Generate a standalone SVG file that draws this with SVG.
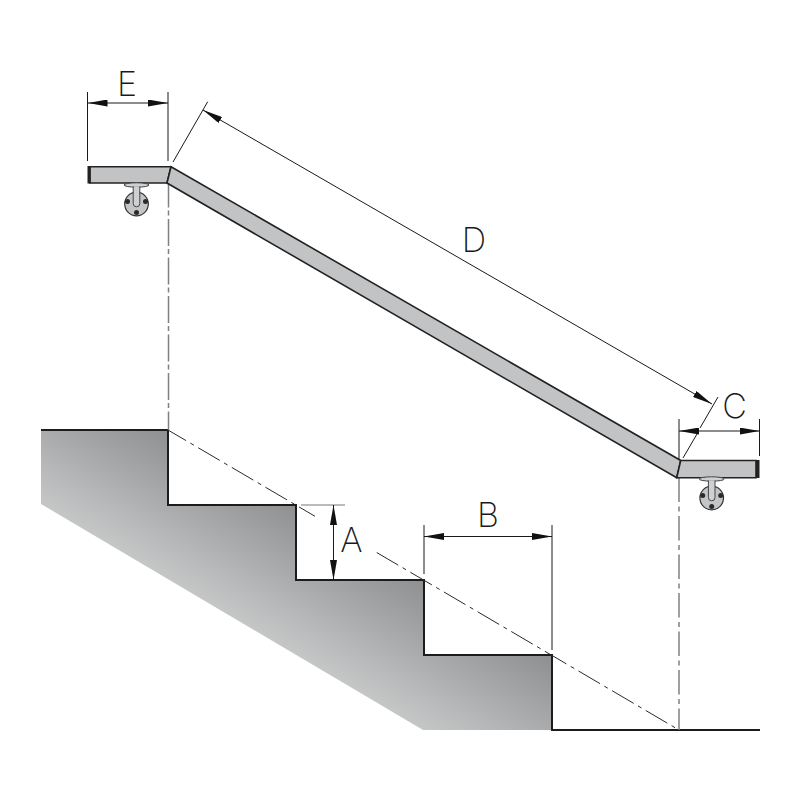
<svg xmlns="http://www.w3.org/2000/svg" width="800" height="800" viewBox="0 0 800 800">
<style>
.dim{fill:none;stroke:#1a1a1a;stroke-width:1}
.cl{fill:none;stroke:#2a2a2a;stroke-width:1;stroke-dasharray:25 5 4 5}
.clv{fill:none;stroke:#808080;stroke-width:1.5}
.edge{fill:none;stroke:#1c1c1c;stroke-width:2}
.rail{fill:#c2c3c5;stroke:#222;stroke-width:1.6;stroke-linejoin:miter}
.lab{font-family:"Inter","Liberation Sans",sans-serif;font-weight:200;font-size:34px;fill:#1a1a1a;text-anchor:middle}
.disc{fill:#c4c5c7;stroke:#333;stroke-width:1.2}
.hole{fill:#2a2a2a}
.stem{fill:#cfd0d2;stroke:#444;stroke-width:1}
</style>
<defs>
<linearGradient id="g" gradientUnits="userSpaceOnUse" x1="305" y1="512" x2="240" y2="622">
<stop offset="0" stop-color="#8f9092"/><stop offset="0.5" stop-color="#a9abad"/><stop offset="1" stop-color="#c5c7c7"/>
</linearGradient>
<marker id="a" viewBox="0 0 20 7" refX="20" refY="3.5" markerWidth="20" markerHeight="7" markerUnits="userSpaceOnUse" orient="auto-start-reverse"><path d="M0 0L20 3.5L0 7Z" fill="#111"/></marker>
<g id="bracket">
<ellipse cx="0" cy="1.5" rx="12.5" ry="2.2" class="stem"/>
<circle cx="0" cy="20.500" r="11.800" class="disc"/>
<circle cx="-9" cy="18" r="2.500" class="hole"/><circle cx="9" cy="18" r="2.500" class="hole"/><circle cx="0" cy="29" r="2.500" class="hole"/>
<path d="M-3.300 3V20a3.300 3.300 0 0 0 6.600 0V3" class="stem"/>
</g>
</defs>
<g id="stairs">
<path d="M41 430H168V505H296V580H424V655H552V730H423L41 504Z" fill="url(#g)"/>
<path d="M41 430H168V505H296V580H424V655H552V730H760" class="edge"/>
</g>
<g id="connectors">
<path d="M168.500 180.500V430" class="clv" stroke-dasharray="27 3 5 3.500"/>
<path d="M679 477.500V730" class="clv" stroke-dasharray="24.500 4.500 5 4.500"/>
<path d="M168 430L315 516.300" class="cl" stroke-dashoffset="4"/>
<path d="M376.700 552.500L679 730" class="cl"/>
<path d="M87.500 92V161M168 92V161" class="dim"/>
<path d="M87.500 103H168" class="dim" marker-start="url(#a)" marker-end="url(#a)"/>
<path d="M173 162L207.700 101.700M683 458L697 434M700 428L718 397" class="dim"/>
<path d="M203 110L712 404" class="dim" marker-start="url(#a)" marker-end="url(#a)"/>
<path d="M679 419V459M759.500 419V456" class="dim"/>
<path d="M679 431H759.500" class="dim" marker-start="url(#a)" marker-end="url(#a)"/>
<path d="M301 505H345" fill="none" stroke="#777" stroke-width="1"/>
<path d="M333.500 505V580" class="dim" marker-start="url(#a)" marker-end="url(#a)"/>
<path d="M424 525V574M552 525V650" class="dim"/>
<path d="M424 536.500H552" class="dim" marker-start="url(#a)" marker-end="url(#a)"/>
</g>
<g id="rail">
<path d="M90 166.700H171L167 183H90Z" class="rail"/>
<path d="M171 166.700L680.700 460.500L676.700 477.700L167 183Z" class="rail"/>
<path d="M680.700 460.500H756V477.700H676.700Z" class="rail"/>
<rect x="87.500" y="166" width="3" height="17.500" fill="#222"/>
<rect x="756" y="460" width="3.500" height="18" fill="#222"/>
</g>
<g id="bracket-left"><use href="#bracket" x="136.500" y="183.500"/></g>
<g id="bracket-right"><use href="#bracket" x="711.700" y="477.500"/></g>
<g id="labels">
<text x="127" y="96" class="lab">E</text>
<text x="474" y="252" class="lab">D</text>
<text x="734.500" y="418" class="lab">C</text>
<text x="351.500" y="552" class="lab">A</text>
<text x="488" y="527" class="lab">B</text>
</g>
</svg>
